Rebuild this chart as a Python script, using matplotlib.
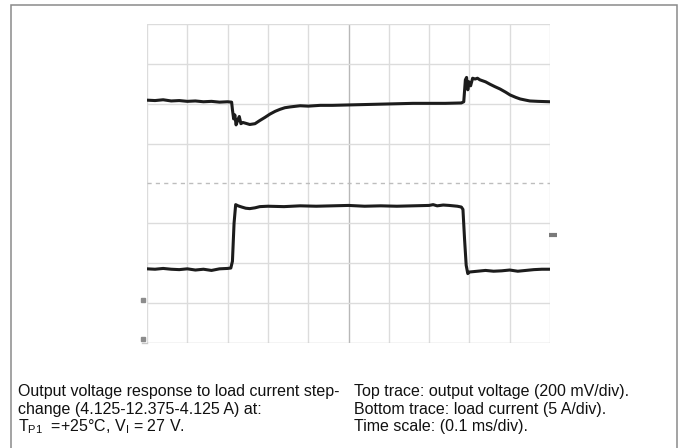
import matplotlib.pyplot as plt
from matplotlib.patches import Rectangle

plt.rcParams['font.family'] = ['Liberation Sans', 'DejaVu Sans']
plt.rcParams['mathtext.fontset'] = 'custom'
plt.rcParams['mathtext.rm'] = 'Liberation Sans'

# time in divisions (0.1 ms/div), levels in divisions from the bottom of the screen
top_t = [0.0, 0.2, 0.4, 0.6, 0.8, 1.0, 1.2, 1.4, 1.6, 1.8, 2.0, 2.1,
         2.12, 2.15, 2.18, 2.21, 2.25, 2.29, 2.33, 2.38, 2.45, 2.55, 2.68,
         2.8, 2.93, 3.05, 3.18, 3.3, 3.42, 3.55, 3.8, 4.0, 4.3, 4.6, 5.0,
         5.4, 5.8, 6.2, 6.6, 7.0, 7.4, 7.8, 7.86, 7.9, 7.93, 7.96, 7.99,
         8.03, 8.08, 8.14, 8.2, 8.26, 8.4, 8.51, 8.63, 8.76, 8.9, 9.01,
         9.15, 9.26, 9.4, 9.5, 9.7, 10.0]
top_v = [6.09, 6.08, 6.10, 6.07, 6.08, 6.06, 6.07, 6.05, 6.06, 6.04, 6.05, 6.04,
         5.85, 5.62, 5.72, 5.47, 5.58, 5.68, 5.50, 5.53, 5.51, 5.48, 5.50,
         5.58, 5.66, 5.74, 5.81, 5.86, 5.90, 5.92, 5.95, 5.94, 5.96, 5.96, 5.97,
         5.98, 5.99, 6.00, 6.01, 6.01, 6.01, 6.02, 6.05, 6.60, 6.66, 6.35, 6.55,
         6.45, 6.64, 6.62, 6.64, 6.60, 6.55, 6.49, 6.43, 6.37, 6.29, 6.22,
         6.16, 6.12, 6.09, 6.07, 6.06, 6.05]

bot_t = [0.0, 0.2, 0.4, 0.6, 0.8, 1.0, 1.2, 1.4, 1.6, 1.8, 2.0, 2.08,
         2.12, 2.16, 2.2, 2.26, 2.35, 2.45, 2.55, 2.68, 2.8, 3.0, 3.4, 3.8,
         4.2, 4.6, 5.0, 5.4, 5.8, 6.2, 6.6, 7.0, 7.1, 7.2, 7.35, 7.5, 7.7,
         7.8, 7.84, 7.88, 7.92, 7.96, 8.0, 8.2, 8.4, 8.6, 8.8, 9.0, 9.2,
         9.4, 9.6, 9.8, 10.0]
bot_v = [1.86, 1.85, 1.87, 1.85, 1.84, 1.86, 1.83, 1.85, 1.82, 1.86, 1.87, 1.88,
         2.05, 3.00, 3.47, 3.44, 3.41, 3.38, 3.37, 3.39, 3.42, 3.43, 3.42, 3.44,
         3.43, 3.44, 3.45, 3.43, 3.44, 3.43, 3.44, 3.45, 3.47, 3.44, 3.46, 3.45, 3.43,
         3.41, 3.35, 2.60, 1.95, 1.74, 1.78, 1.80, 1.82, 1.80, 1.81, 1.83, 1.80,
         1.82, 1.84, 1.85, 1.85]

# channel / trigger markers on the screen edge
ch_marks_y = [1.08, 0.1]
trig_mark_y = 2.71

caption_left = ["Output voltage response to load current step-",
                "change (4.125-12.375-4.125 A) at:",
                r"T$_{\rm P1}$  =+25°C, V$_{\rm I}$ = 27 V."]
caption_right = ["Top trace: output voltage (200 mV/div).",
                 "Bottom trace: load current (5 A/div).",
                 "Time scale: (0.1 ms/div)."]

W, H = 680, 448
fig = plt.figure(figsize=(W / 100, H / 100), dpi=100)

# outer frame
fig.patches.append(Rectangle((11 / W, -0.01), 666 / W, 1 - 5 / H + 0.01,
                             transform=fig.transFigure, fill=False,
                             edgecolor='#8a8a8a', linewidth=1.1))

ax = fig.add_axes([147 / W, 1 - 343 / H, 403 / W, 319 / H])
ax.set_xlim(0, 10)
ax.set_ylim(0, 8)
for s in ax.spines.values():
    s.set_visible(False)
ax.set_xticks([])
ax.set_yticks([])

# graticule
for i in range(11):
    c = '#b8b8b8' if i == 5 else '#dcdcdc'
    ax.axvline(i, color=c, lw=1.0, zorder=1)
for j in range(9):
    if j == 4:
        ax.axhline(j, color='#bdbdbd', lw=1.0, ls=(0, (3, 3)), zorder=1)
    else:
        c = '#c8c8c8' if j == 0 else '#dcdcdc'
        ax.axhline(j, color=c, lw=1.0, zorder=1)
ax.plot([-0.12, 0], [0, 0], color='#c8c8c8', lw=1.0, clip_on=False)

ax.plot(top_t, top_v, color='#1c1c1c', lw=2.2, zorder=3)
ax.plot(bot_t, bot_v, color='#1c1c1c', lw=2.2, zorder=3)

ax.plot([-0.1] * len(ch_marks_y), ch_marks_y, ls='none', marker='s',
        ms=3, color='#8c8c8c', clip_on=False)
ax.plot([10.08], [trig_mark_y], ls='none', marker='_', ms=6, mew=3,
        color='#7a7a7a', clip_on=False)

baselines = [396, 413.5, 431]
for txt, yb in zip(caption_left, baselines):
    fig.text(18 / W, 1 - yb / H, txt, fontsize=11.5, va='baseline', ha='left',
             color='#111111')
for txt, yb in zip(caption_right, baselines):
    fig.text(354 / W, 1 - yb / H, txt, fontsize=11.5, va='baseline', ha='left',
             color='#111111')

fig.savefig('out.png', dpi=100)
